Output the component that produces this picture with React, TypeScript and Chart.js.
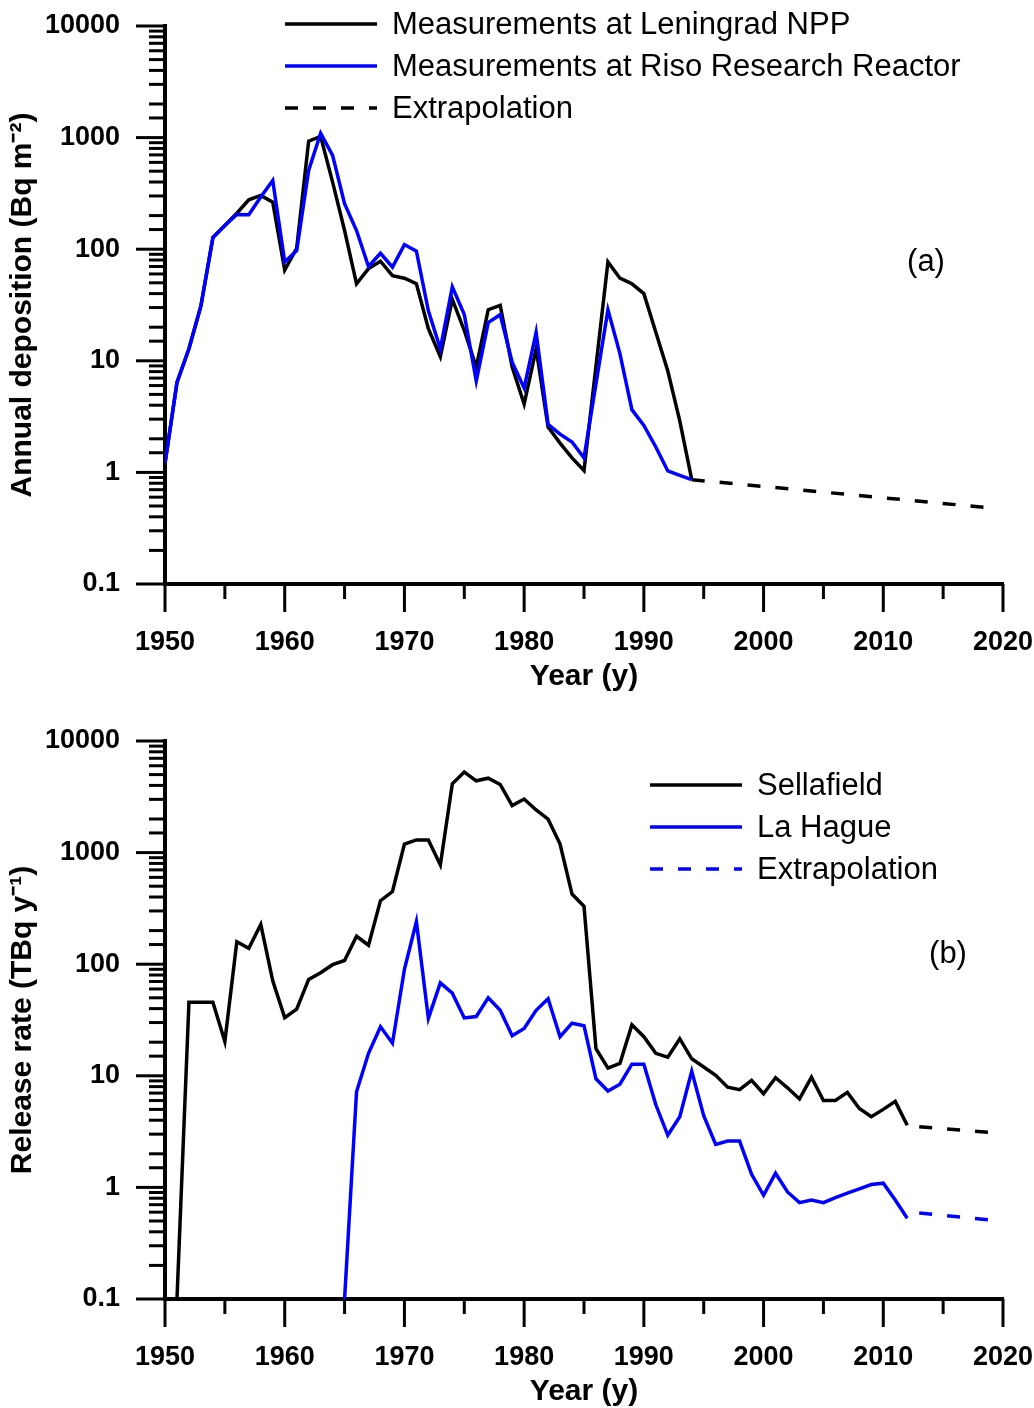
import React, { useEffect, useRef } from 'react';
import { Chart, registerables } from 'chart.js';

Chart.register(...registerables);

const FONT = "'Liberation Sans', Arial, Helvetica, sans-serif";

// ---------- Panel (a): annual deposition ----------
const leningradYears = [1950, 1951, 1952, 1953, 1954, 1955, 1956, 1957, 1958, 1959, 1960, 1961, 1962, 1963, 1964, 1965, 1966, 1967, 1968, 1969, 1970, 1971, 1972, 1973, 1974, 1975, 1976, 1977, 1978, 1979, 1980, 1981, 1982, 1983, 1984, 1985, 1987, 1988, 1989, 1990, 1991, 1992, 1993, 1994];
const leningradValues = [1.2, 6.4, 12.8, 31, 127, 163, 210, 277, 303, 264, 65, 102, 930, 1025, 399, 147, 49, 67, 78, 58, 55, 49, 19.4, 10.9, 35.5, 18.7, 8.8, 28.7, 31.4, 8.8, 4.1, 12.8, 2.55, 1.83, 1.35, 1.04, 77, 55, 49, 40, 18, 8.1, 2.9, 0.86];

const risoYears = [1950, 1951, 1952, 1953, 1954, 1955, 1956, 1957, 1958, 1959, 1960, 1961, 1962, 1963, 1964, 1965, 1966, 1967, 1968, 1969, 1970, 1971, 1972, 1973, 1974, 1975, 1976, 1977, 1978, 1979, 1980, 1981, 1982, 1983, 1984, 1985, 1987, 1988, 1989, 1990, 1991, 1992, 1993, 1994];
const risoValues = [1.2, 6.4, 12.8, 31, 127, 163, 205, 204, 293, 413, 77, 97, 508, 1097, 692, 256, 147, 70, 92, 69, 110, 96, 28, 12.8, 46, 26, 6.6, 22, 25.9, 9.7, 5.7, 18, 2.7, 2.2, 1.87, 1.35, 28.7, 11.6, 3.65, 2.64, 1.69, 1.03, 0.94, 0.86];

const extrapAYears = [1994, 2019];
const extrapAValues = [0.86, 0.48];

// ---------- Panel (b): release rate ----------
const sellafieldYears = [1951, 1952, 1953, 1954, 1955, 1956, 1957, 1958, 1959, 1960, 1961, 1962, 1963, 1964, 1965, 1966, 1967, 1968, 1969, 1970, 1971, 1972, 1973, 1974, 1975, 1976, 1977, 1978, 1979, 1980, 1981, 1982, 1983, 1984, 1985, 1986, 1987, 1988, 1989, 1990, 1991, 1992, 1993, 1994, 1995, 1996, 1997, 1998, 1999, 2000, 2001, 2002, 2003, 2004, 2005, 2006, 2007, 2008, 2009, 2010, 2011, 2012];
const sellafieldValues = [0.1, 45.6, 45.6, 45.6, 20.3, 159, 139, 227, 71, 33.2, 39.5, 73, 84, 99, 108, 178, 148, 371, 448, 1193, 1300, 1300, 776, 4140, 5270, 4400, 4640, 4080, 2640, 3020, 2410, 1995, 1194, 425, 331, 17.5, 11.7, 12.9, 28.6, 22.4, 15.9, 14.7, 21.5, 14.2, 12.0, 10.1, 7.9, 7.5, 9.1, 6.9, 9.6, 7.8, 6.2, 9.7, 6.0, 6.0, 7.1, 5.1, 4.3, 5.0, 5.9, 3.6];

const laHagueYears = [1965, 1966, 1967, 1968, 1969, 1970, 1971, 1972, 1973, 1974, 1975, 1976, 1977, 1978, 1979, 1980, 1981, 1982, 1983, 1984, 1985, 1986, 1987, 1988, 1989, 1990, 1991, 1992, 1993, 1994, 1995, 1996, 1997, 1998, 1999, 2000, 2001, 2002, 2003, 2004, 2005, 2006, 2007, 2008, 2009, 2010, 2011, 2012];
const laHagueValues = [0.1, 7.2, 15.9, 27.5, 19.6, 90, 241, 32.7, 68, 55, 33, 34, 50, 38.6, 22.8, 26.5, 38.6, 49, 22.4, 29.6, 28.1, 9.4, 7.3, 8.4, 12.7, 12.7, 5.5, 2.93, 4.3, 11.0, 4.4, 2.43, 2.6, 2.6, 1.31, 0.85, 1.34, 0.91, 0.73, 0.77, 0.73, 0.81, 0.89, 0.97, 1.06, 1.09, 0.77, 0.53];

const sellafieldExtrapYears = [2013, 2019];
const sellafieldExtrapValues = [3.5, 3.1];
const laHagueExtrapYears = [2013, 2019];
const laHagueExtrapValues = [0.59, 0.51];

// ---------- Axes ----------
const yMajorTicks = [0.1, 1, 10, 100, 1000, 10000];
const yTickLabels = ['0.1', '1', '10', '100', '1000', '10000'];
const xMajorTicks = [1950, 1960, 1970, 1980, 1990, 2000, 2010, 2020];
const xTickLabels = ['1950', '1960', '1970', '1980', '1990', '2000', '2010', '2020'];

const BLACK = '#000000';
const BLUE = '#0000ff';
const DASH = [13, 15];
const LW = 3.5;

const toXY = (xs: number[], ys: number[]) => xs.map((x, i) => ({ x, y: ys[i] }));

const W = 1034;
const H = 715;
const PLOT_LEFT = 165;
const PLOT_RIGHT = 1003;
const PLOT_TOP = 26;
const PLOT_BOTTOM = 584;

const noPad = (s: any) => {
  s.paddingTop = 0;
  s.paddingBottom = 0;
  s.paddingLeft = 0;
  s.paddingRight = 0;
};

const ticksPlugin = {
  id: 'axisTicks',
  afterDraw(chart: any) {
    const { ctx, chartArea, scales } = chart;
    const xs = scales.x;
    const ys = scales.y;
    ctx.save();
    ctx.strokeStyle = BLACK;
    ctx.lineWidth = 3;
    ctx.lineCap = 'butt';
    ys.ticks.forEach((t: any) => {
      const lg = Math.log10(t.value);
      const major = Math.abs(lg - Math.round(lg)) < 1e-6;
      const py = ys.getPixelForValue(t.value);
      const len = major ? 29 : 16;
      ctx.beginPath();
      ctx.moveTo(chartArea.left - len, py);
      ctx.lineTo(chartArea.left, py);
      ctx.stroke();
    });
    xs.ticks.forEach((t: any) => {
      const major = xMajorTicks.includes(Math.round(t.value));
      const px = xs.getPixelForValue(t.value);
      const len = major ? 28 : 15;
      ctx.beginPath();
      ctx.moveTo(px, chartArea.bottom);
      ctx.lineTo(px, chartArea.bottom + len);
      ctx.stroke();
    });
    ctx.restore();
  },
};

const legendPlugin = {
  id: 'panelLegend',
  afterDraw(chart: any, _args: any, opts: any) {
    const { ctx } = chart;
    const items = chart.data.datasets.filter((d: any) => d.inLegend !== false);
    ctx.save();
    ctx.font = `31px ${FONT}`;
    ctx.fillStyle = BLACK;
    ctx.textAlign = 'left';
    ctx.textBaseline = 'alphabetic';
    items.forEach((d: any, i: number) => {
      const y = opts.top + i * opts.gap;
      ctx.strokeStyle = d.borderColor;
      ctx.lineWidth = LW;
      ctx.setLineDash(d.borderDash || []);
      ctx.beginPath();
      ctx.moveTo(opts.lineX, y);
      ctx.lineTo(opts.lineX + opts.lineLen, y);
      ctx.stroke();
      ctx.setLineDash([]);
      ctx.fillText(d.label, opts.textX, y + 10);
    });
    if (opts.tag) {
      ctx.textBaseline = 'middle';
      ctx.textAlign = 'center';
      ctx.fillText(opts.tag, opts.tagX, opts.tagY);
    }
    ctx.restore();
  },
};

function makeConfig(datasets: any[], yTitle: string, legendOpts: any): any {
  return {
    type: 'line',
    data: { datasets },
    plugins: [ticksPlugin, legendPlugin],
    options: {
      responsive: false,
      animation: false,
      devicePixelRatio: 1,
      events: [],
      layout: { padding: { left: 0, right: W - PLOT_RIGHT, top: PLOT_TOP, bottom: 0 } },
      elements: { point: { radius: 0 }, line: { tension: 0, borderWidth: LW } },
      plugins: {
        legend: { display: false },
        tooltip: { enabled: false },
        panelLegend: legendOpts,
      },
      scales: {
        x: {
          type: 'linear',
          min: 1950,
          max: 2020,
          afterFit: (s: any) => { s.height = H - PLOT_BOTTOM; noPad(s); },
          grid: { display: false },
          border: { display: true, color: BLACK, width: 4 },
          ticks: {
            stepSize: 5,
            autoSkip: false,
            maxRotation: 0,
            padding: 34,
            color: BLACK,
            font: { family: FONT, size: 27, weight: 'bold' },
            callback: (v: number) => {
              const i = xMajorTicks.indexOf(Math.round(v));
              return i >= 0 ? xTickLabels[i] : '';
            },
          },
          title: {
            display: true,
            text: 'Year (y)',
            color: BLACK,
            font: { family: FONT, size: 30, weight: 'bold' },
            padding: { top: 0, bottom: 20 },
          },
        },
        y: {
          type: 'logarithmic',
          min: 0.1,
          max: 10000,
          afterFit: (s: any) => { s.width = PLOT_LEFT; noPad(s); },
          grid: { display: false },
          border: { display: true, color: BLACK, width: 4 },
          ticks: {
            autoSkip: false,
            padding: 37,
            color: BLACK,
            font: { family: FONT, size: 27, weight: 'bold' },
            callback: (v: number) => {
              const i = yMajorTicks.findIndex((m) => Math.abs(v - m) / m < 1e-6);
              return i >= 0 ? yTickLabels[i] : '';
            },
          },
          title: {
            display: true,
            text: yTitle,
            color: BLACK,
            font: { family: FONT, size: 30, weight: 'bold' },
            padding: { top: 5, bottom: 0 },
          },
        },
      },
    },
  };
}

export default function App() {
  const refA = useRef<HTMLCanvasElement>(null);
  const refB = useRef<HTMLCanvasElement>(null);

  useEffect(() => {
    const dsA = [
      { label: 'Measurements at Leningrad NPP', data: toXY(leningradYears, leningradValues), borderColor: BLACK, backgroundColor: BLACK, borderWidth: LW, pointRadius: 0, fill: false, order: 2 },
      { label: 'Measurements at Riso Research Reactor', data: toXY(risoYears, risoValues), borderColor: BLUE, backgroundColor: BLUE, borderWidth: LW, pointRadius: 0, fill: false, order: 1 },
      { label: 'Extrapolation', data: toXY(extrapAYears, extrapAValues), borderColor: BLACK, backgroundColor: BLACK, borderWidth: LW, borderDash: DASH, pointRadius: 0, fill: false, order: 3 },
    ];
    const dsB = [
      { label: 'Sellafield', data: toXY(sellafieldYears, sellafieldValues), borderColor: BLACK, backgroundColor: BLACK, borderWidth: LW, pointRadius: 0, fill: false },
      { label: 'La Hague', data: toXY(laHagueYears, laHagueValues), borderColor: BLUE, backgroundColor: BLUE, borderWidth: LW, pointRadius: 0, fill: false },
      { label: 'Extrapolation', data: toXY(laHagueExtrapYears, laHagueExtrapValues), borderColor: BLUE, backgroundColor: BLUE, borderWidth: LW, borderDash: DASH, pointRadius: 0, fill: false },
      { label: 'Extrapolation (Sellafield)', inLegend: false, data: toXY(sellafieldExtrapYears, sellafieldExtrapValues), borderColor: BLACK, backgroundColor: BLACK, borderWidth: LW, borderDash: DASH, pointRadius: 0, fill: false },
    ];
    const a = new Chart(refA.current as HTMLCanvasElement, makeConfig(dsA, 'Annual deposition (Bq m⁻²)', {
      lineX: 285, lineLen: 92, textX: 392, top: 24, gap: 42, tag: '(a)', tagX: 926, tagY: 262,
    }));
    const b = new Chart(refB.current as HTMLCanvasElement, makeConfig(dsB, 'Release rate (TBq y⁻¹)', {
      lineX: 650, lineLen: 92, textX: 757, top: 70, gap: 42, tag: '(b)', tagX: 948, tagY: 239,
    }));
    return () => {
      a.destroy();
      b.destroy();
    };
  }, []);

  return (
    <div style={{ position: 'absolute', left: 0, top: 0, width: W, height: 1408, overflow: 'hidden', background: '#ffffff' }}>
      <canvas ref={refA} width={W} height={H} style={{ display: 'block', width: W, height: H }} />
      <canvas ref={refB} width={W} height={H} style={{ display: 'block', width: W, height: H }} />
    </div>
  );
}
